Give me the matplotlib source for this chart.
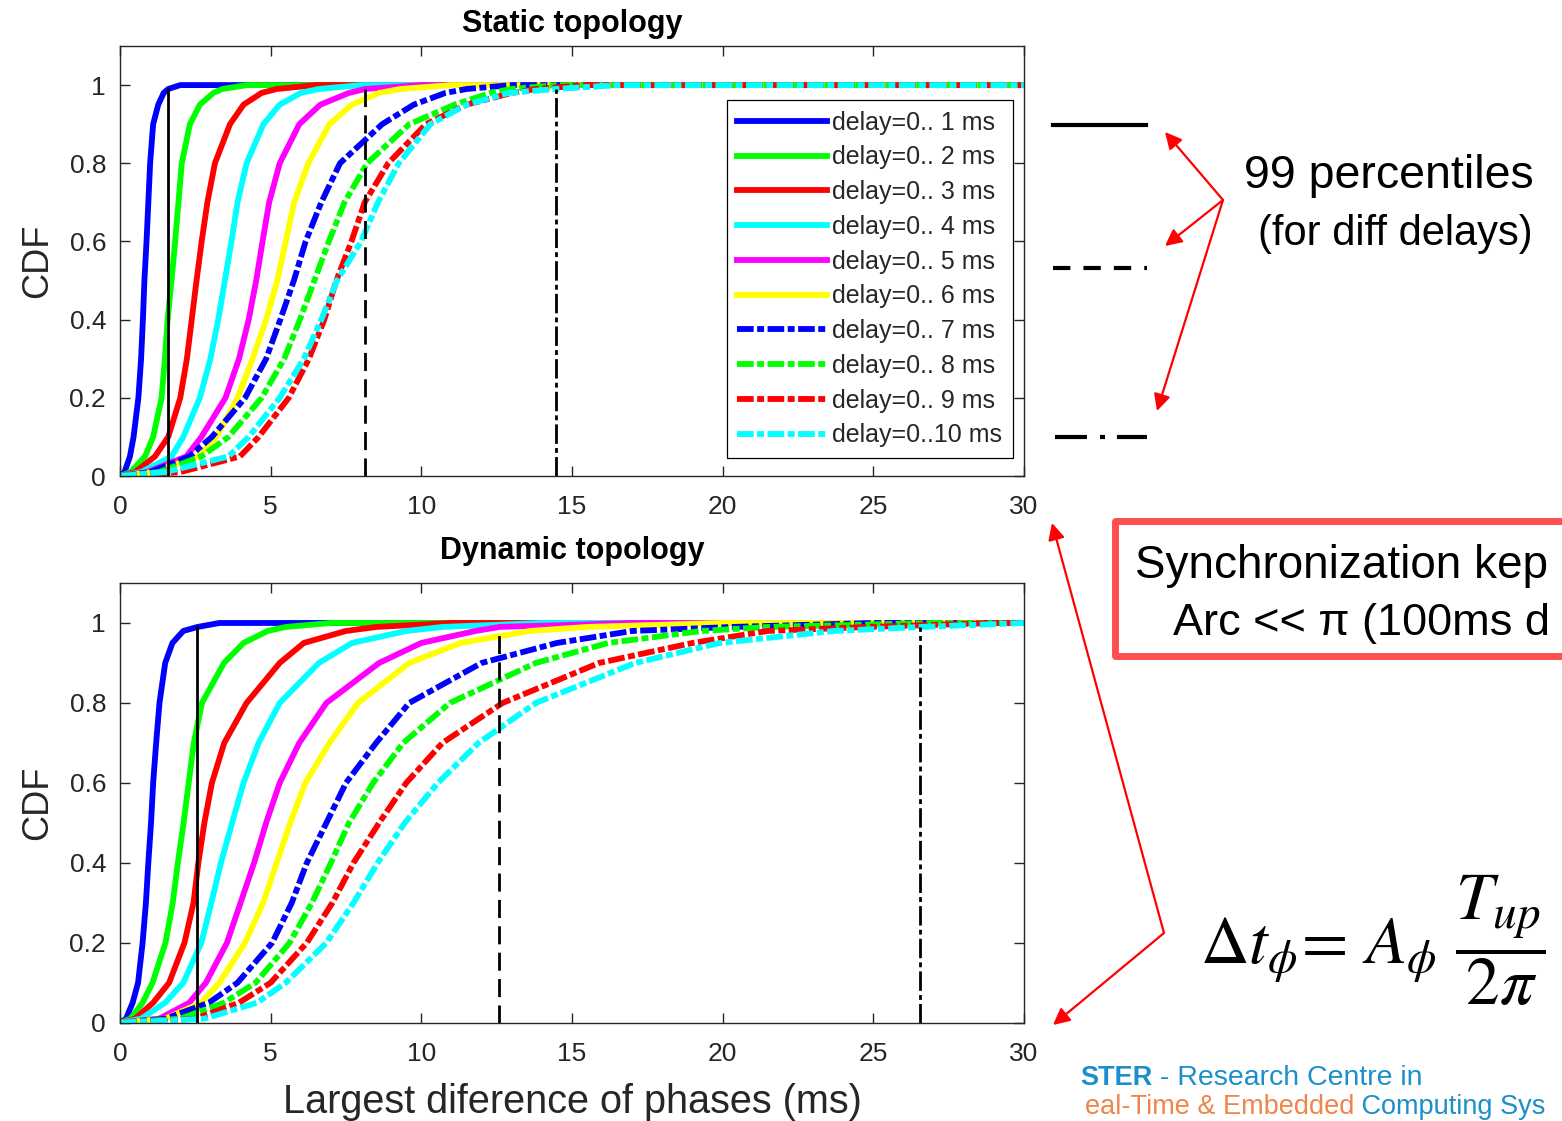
import matplotlib
matplotlib.use("Agg")
import matplotlib.pyplot as plt
from matplotlib.patches import Rectangle

plt.rcParams['font.family'] = ['Liberation Sans', 'DejaVu Sans']
plt.rcParams['mathtext.fontset'] = 'stix'
plt.rcParams['lines.scale_dashes'] = False

cdf_levels = [0, 0.01, 0.05, 0.1, 0.2, 0.3, 0.4, 0.5, 0.6, 0.7, 0.8, 0.9, 0.95, 0.98, 0.99, 1.0]

delays = [1, 2, 3, 4, 5, 6, 7, 8, 9, 10]
colors = ['#0000ff', '#00ff00', '#ff0000', '#00ffff', '#ff00ff', '#ffff00',
          '#0000ff', '#00ff00', '#ff0000', '#00ffff']

static_x = [
    [0, 0.15, 0.33, 0.45, 0.61, 0.70, 0.76, 0.81, 0.88, 0.94, 1.00, 1.10, 1.27, 1.45, 1.60, 2.0],
    [0, 0.35, 0.83, 1.10, 1.38, 1.49, 1.58, 1.71, 1.83, 1.94, 2.05, 2.32, 2.65, 3.10, 3.40, 4.2],
    [0, 0.50, 1.16, 1.60, 2.00, 2.22, 2.38, 2.54, 2.71, 2.90, 3.15, 3.65, 4.10, 4.70, 5.20, 6.5],
    [0, 0.70, 1.71, 2.10, 2.65, 3.00, 3.26, 3.48, 3.70, 3.90, 4.20, 4.76, 5.30, 6.00, 6.60, 8.0],
    [0, 0.90, 2.20, 2.70, 3.50, 3.95, 4.27, 4.52, 4.73, 4.95, 5.30, 5.95, 6.65, 7.60, 8.13, 10.0],
    [0, 1.10, 2.60, 3.20, 3.90, 4.40, 4.85, 5.22, 5.50, 5.78, 6.25, 6.95, 7.70, 8.60, 9.30, 11.0],
    [0, 1.00, 2.30, 3.05, 4.15, 4.85, 5.32, 5.77, 6.16, 6.68, 7.30, 8.70, 9.75, 10.8, 11.5, 13.0],
    [0, 1.30, 2.70, 3.60, 4.70, 5.45, 5.97, 6.45, 6.93, 7.45, 8.20, 9.60, 11.1, 12.3, 13.0, 14.5],
    [0, 2.00, 3.98, 4.60, 5.60, 6.27, 6.78, 7.18, 7.68, 8.12, 8.90, 10.15, 11.5, 13.0, 13.8, 15.5],
    [0, 1.50, 3.60, 4.27, 5.30, 6.10, 6.68, 7.20, 8.00, 8.56, 9.25, 10.3, 11.5, 12.9, 14.46, 16.5],
]

dynamic_x = [
    [0, 0.20, 0.42, 0.60, 0.75, 0.86, 0.94, 1.03, 1.10, 1.20, 1.31, 1.50, 1.74, 2.10, 2.57, 3.3],
    [0, 0.35, 0.75, 1.08, 1.51, 1.75, 1.92, 2.11, 2.28, 2.45, 2.72, 3.45, 4.10, 4.90, 5.50, 7.0],
    [0, 0.50, 1.10, 1.63, 2.14, 2.44, 2.60, 2.80, 3.05, 3.46, 4.20, 5.30, 6.10, 7.50, 8.50, 11.0],
    [0, 0.70, 1.50, 2.10, 2.70, 3.03, 3.35, 3.72, 4.10, 4.60, 5.30, 6.60, 7.70, 9.50, 10.7, 14.0],
    [0, 1.30, 2.30, 2.85, 3.55, 4.00, 4.45, 4.85, 5.30, 5.95, 6.85, 8.60, 10.0, 11.8, 12.59, 17.0],
    [0, 1.50, 2.70, 3.30, 4.15, 4.75, 5.20, 5.65, 6.15, 6.95, 7.90, 9.60, 11.3, 13.6, 15.5, 20.0],
    [0, 1.50, 2.95, 3.90, 5.05, 5.70, 6.20, 6.85, 7.50, 8.50, 9.60, 12.0, 14.5, 17.0, 20.3, 25.0],
    [0, 2.00, 3.45, 4.50, 5.63, 6.37, 7.00, 7.60, 8.40, 9.40, 10.95, 13.8, 16.2, 19.3, 21.5, 27.0],
    [0, 2.50, 3.95, 5.00, 6.20, 7.05, 7.75, 8.60, 9.50, 10.7, 12.7, 15.9, 19.0, 21.5, 24.8, 29.0],
    [0, 2.80, 4.55, 5.50, 6.85, 7.75, 8.55, 9.45, 10.55, 11.9, 13.8, 17.1, 19.9, 23.7, 26.55, 30.0],
]

# 99th percentiles (delay 1, 5 and 10 ms)
pct_level = 0.99
static_p99 = [1.6, 8.13, 14.46]
dynamic_p99 = [2.57, 12.59, 26.55]

x_ticks = [0, 5, 10, 15, 20, 25, 30]
y_ticks = [0, 0.2, 0.4, 0.6, 0.8, 1]
y_ticklabels = ['0', '0.2', '0.4', '0.6', '0.8', '1']

dashdot_curve = (12, 2.5, 5, 2.5)
pct_styles = [dict(ls='-'), dict(dashes=(13, 6)), dict(dashes=(14, 3, 3.5, 3))]
axis_col = '#262626'

W, H = 1562, 1121
fig = plt.figure(figsize=(W / 100, H / 100), dpi=100)


def draw_panel(ax, curves, p99, title, title_pad):
    for i, xs in enumerate(curves):
        x, y = list(xs), list(cdf_levels)
        if x[-1] < 30:
            x.append(30)
            y.append(1.0)
        style = dict(color=colors[i], lw=4.2, solid_joinstyle='round')
        if i >= 6:
            style['dashes'] = dashdot_curve
        ax.plot(x, y, label='delay=0..%2d ms' % delays[i], **style)
    for p, st in zip(p99, pct_styles):
        ax.plot([p, p], [0, pct_level], color='k', lw=2.0, **st)
    ax.set_xlim(0, 30)
    ax.set_ylim(0, 1.1)
    ax.set_xticks(x_ticks)
    ax.set_yticks(y_ticks)
    ax.set_yticklabels(y_ticklabels)
    ax.tick_params(direction='in', top=True, right=True, length=7, width=1,
                   color=axis_col, labelcolor=axis_col, labelsize=19)
    ax.tick_params(axis='x', pad=14)
    ax.tick_params(axis='y', pad=10)
    for s in ax.spines.values():
        s.set_color(axis_col)
        s.set_linewidth(1.0)
    ax.set_title(title, fontsize=22, fontweight='bold', pad=title_pad)
    ax.set_ylabel('CDF', fontsize=26, color=axis_col)
    ax.yaxis.set_label_coords(-0.072, 0.5)


ax_top = fig.add_axes([120 / W, (H - 476) / H, 904 / W, 430 / H])
draw_panel(ax_top, static_x, static_p99, 'Static topology', 10)
leg = ax_top.legend(loc='upper right', bbox_to_anchor=(0.9878, 0.8744), borderaxespad=0,
                    fontsize=18, handlelength=3.6, handletextpad=0.2, labelspacing=0.43,
                    borderpad=0.42, fancybox=False, edgecolor='k', framealpha=1)
leg.get_frame().set_linewidth(0.9)
for t in leg.get_texts():
    t.set_color(axis_col)

ax_bot = fig.add_axes([120 / W, (H - 1022.7) / H, 904 / W, 439.7 / H])
draw_panel(ax_bot, dynamic_x, dynamic_p99, 'Dynamic topology', 17)
ax_bot.set_xlabel('Largest diference of phases (ms)', fontsize=28.5, color=axis_col)
ax_bot.xaxis.set_label_coords(0.5, -0.138)

# slide annotations, in pixel coordinates
ov = fig.add_axes([0, 0, 1, 1], zorder=5)
ov.set_xlim(0, W)
ov.set_ylim(H, 0)
ov.axis('off')
ov.patch.set_alpha(0)

ov.plot([1053, 1146], [125, 125], color='k', lw=3)
ov.plot([1053, 1147], [268, 268], color='k', lw=3, dashes=(12.5, 9.4))
ov.plot([1055, 1147], [437, 437], color='k', lw=3, dashes=(23, 9.4, 3.6, 8.6))

ov.text(1244, 188, '99 percentiles', fontsize=33.5, color='k', va='baseline')
ov.text(1258, 245, '(for diff delays)', fontsize=30, color='k', va='baseline')

arrow = dict(arrowstyle='-|>', color='red', lw=1.6, mutation_scale=25, shrinkA=0, shrinkB=0)
for tip in [(1165, 132), (1165, 246), (1157, 411)]:
    ov.annotate('', xy=tip, xytext=(1223, 200), arrowprops=arrow)
for tip in [(1052, 523), (1053, 1025)]:
    ov.annotate('', xy=tip, xytext=(1164, 933), arrowprops=arrow)

ov.add_patch(Rectangle((1115, 521), 470, 135, fill=True, facecolor='white',
                       edgecolor='#ff5050', lw=5, joinstyle='round'))
ov.text(1135, 578, 'Synchronization kep', fontsize=33, color='k', va='baseline')
ov.text(1173, 635, 'Arc << \u03c0 (100ms d', fontsize=32.5, color='k', va='baseline')

ov.text(1200, 963, r'$\Delta t_{\phi}\!=\,A_{\phi}\,\,\dfrac{T_{up}}{2\pi}$', fontsize=48.5,
        color='k', va='baseline')

blue, orange = '#1a8fc9', '#f0844a'
t1 = ov.text(1080, 1085, 'STER', fontsize=19.5, fontweight='bold', color=blue, va='baseline')
ov.annotate(' - Research Centre in', xy=(1, 0), xycoords=t1, va='bottom', fontsize=20.5,
            color=blue)
t2 = ov.text(1085, 1114, 'eal-Time & Embedded', fontsize=19.5, color=orange, va='baseline')
ov.annotate(' Computing Sys', xy=(1, 0), xycoords=t2, va='bottom', fontsize=19.5, color=blue)

fig.savefig('out.png', dpi=100)
